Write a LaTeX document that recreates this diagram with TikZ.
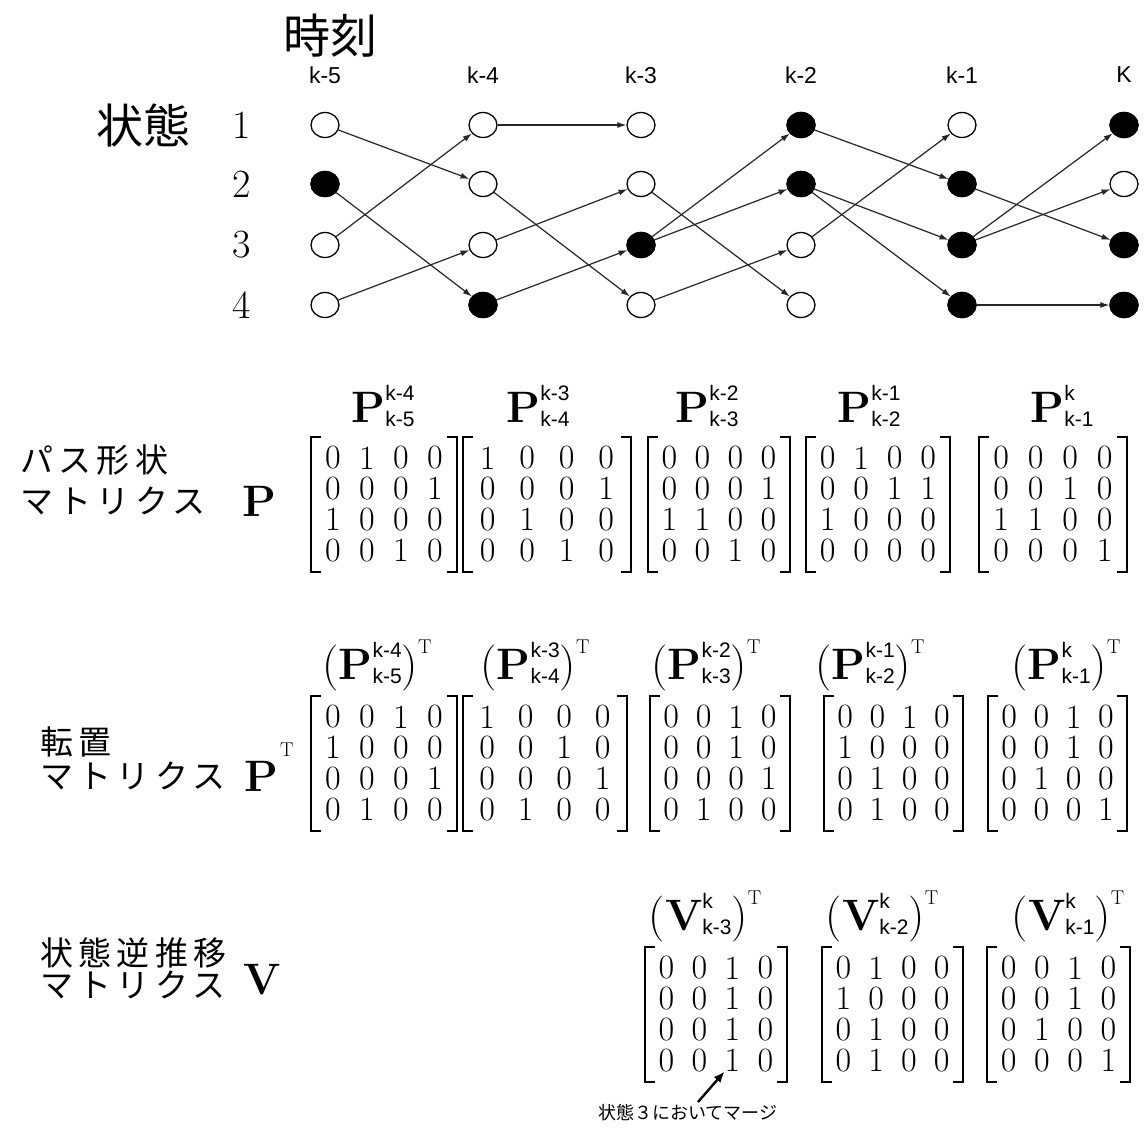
\documentclass[tikz,border=0pt]{standalone}
\usepackage{fontspec}
\usetikzlibrary{arrows.meta,shapes.geometric}
\newfontfamily\jp{Noto Sans CJK JP}
\newfontfamily\jpl[LetterSpace=16]{Noto Sans CJK JP}
\newfontfamily\ssf{Liberation Sans}
\newcommand\bfP{{\fontsize{44}{44}\selectfont\bfseries P}}
\newcommand\bfV{{\fontsize{44}{44}\selectfont\bfseries V}}
\newcommand\scrf{\fontsize{21}{21}\selectfont\ssf}
\newcommand\lpar{{\fontsize{46}{46}\selectfont(}}
\newcommand\rpar{{\fontsize{46}{46}\selectfont)}}
\newcommand\supT{\raisebox{26pt}{\fontsize{20}{20}\selectfont T}}
\newcommand\PH[3]{#1\rlap{\raisebox{22pt}{\scrf #2}}\raisebox{-4pt}{\scrf #3}}
\newcommand\mymat[8]{%
  \foreach \rw [count=\r] in {{#5},{#6},{#7},{#8}} {
    \foreach \v [count=\c] in \rw {
      \node[dig] (#1-\r-\c) at ({#2+5+(#3-#2-10)*(2*\c-1)/8},{#4+(\r-1)*30.7}) {\v};
    }
  }
  \draw[brk] ({#2+10},{#4-21}) -- (#2,{#4-21}) -- (#2,{#4+3*30.7+22}) -- ({#2+10},{#4+3*30.7+22});
  \draw[brk] ({#3-10},{#4-21}) -- (#3,{#4-21}) -- (#3,{#4+3*30.7+22}) -- ({#3-10},{#4+3*30.7+22});
}
\begin{document}
\begin{tikzpicture}[x=1pt,y=-1pt,
  st/.style={ellipse, draw, line width=1.3pt, minimum width=28pt, minimum height=25pt, inner sep=0pt, fill=white},
  stf/.style={st, fill=black},
  tr/.style={line width=1.2pt, draw=black!85, -{Latex[length=9pt,width=6pt]}},
  dig/.style={font=\fontsize{34}{34}\selectfont, inner sep=0pt},
  brk/.style={line width=2.4pt},
  head/.style={inner sep=0pt},
  jlab/.style={inner sep=0pt, anchor=west, font=\fontsize{33}{33}\selectfont\jpl},
  collab/.style={inner sep=0pt, font=\fontsize{23}{23}\selectfont\ssf},
  numlab/.style={inner sep=0pt, font=\fontsize{40}{40}\selectfont},
]
\useasboundingbox[fill=white] (0,0) rectangle (1148,1130);

% ---- trellis labels
\node[inner sep=0pt, font=\fontsize{47}{47}\selectfont\jp] (jikoku) at (330,36) {時刻};
\node[inner sep=0pt, font=\fontsize{47}{47}\selectfont\jp] (joutai) at (143,125) {状態};
\foreach \lab [count=\i from 0] in {k-5,k-4,k-3,k-2,k-1,K} {
  \pgfmathsetmacro\xx{{325,483,641,801,962,1124}[\i]}
  \node[collab] (col\i) at (\xx,75) {\lab};
}
\foreach \j/\yy in {1/125,2/184,3/245,4/305} {
  \node[numlab] (num\j) at (242,\yy) {\j};
}

% ---- states
\foreach \i/\xx in {0/325,1/483,2/641,3/801,4/962,5/1124} {
  \foreach \j/\yy in {1/125,2/184,3/245,4/305} {
    \node[st] (n\i-\j) at (\xx,\yy) {};
  }
}
\foreach \i/\j in {0/2,1/4,2/3,3/1,3/2,4/2,4/3,4/4,5/1,5/3,5/4} {
  \node[stf] (f\i-\j) at (n\i-\j) {};
}
% ---- transitions
\foreach \i/\a/\b in {0/1/2,0/2/4,0/3/1,0/4/3,
                      1/1/1,1/2/4,1/3/2,1/4/3,
                      2/2/4,2/3/1,2/3/2,2/4/3,
                      3/1/2,3/2/3,3/2/4,3/3/1,
                      4/2/3,4/3/1,4/3/2,4/4/4} {
  \pgfmathtruncatemacro\nx{\i+1}
  \draw[tr] (n\i-\a) -- (n\nx-\b);
}

% ---- P matrices
\node[jlab] (pasu) at (20,460) {パス形状};
\node[jlab] (mat1) at (20,501) {マトリクス};
\node[head, anchor=west] (P1) at (242,501) {\bfP};
\node[head] (hp1) at (383,406) {\PH{\bfP}{k-4}{k-5}};
\node[head] (hp2) at (538,406) {\PH{\bfP}{k-3}{k-4}};
\node[head] (hp3) at (707,406) {\PH{\bfP}{k-2}{k-3}};
\node[head] (hp4) at (869,406) {\PH{\bfP}{k-1}{k-2}};
\node[head] (hp5) at (1062,406) {\PH{\bfP}{k}{k-1}};
\mymat{pa}{311}{457}{458}{0,1,0,0}{0,0,0,1}{1,0,0,0}{0,0,1,0}
\mymat{pb}{463}{631}{458}{1,0,0,0}{0,0,0,1}{0,1,0,0}{0,0,1,0}
\mymat{pc}{648}{790}{458}{0,0,0,0}{0,0,0,1}{1,1,0,0}{0,0,1,0}
\mymat{pd}{806}{950}{458}{0,1,0,0}{0,0,1,1}{1,0,0,0}{0,0,0,0}
\mymat{pe}{979}{1127}{458}{0,0,0,0}{0,0,1,0}{1,1,0,0}{0,0,0,1}

% ---- transposed
\node[jlab] (tenchi) at (40,742) {転置};
\node[jlab] (mat2) at (40,776) {マトリクス};
\node[head, anchor=west] (P2) at (244,776) {\bfP};
\node[head, anchor=west, font=\fontsize{20}{20}\selectfont] (T2) at (280,750) {T};
\node[head] (ht1) at (377,665) {\lpar\PH{\bfP}{k-4}{k-5}\rpar\supT};
\node[head] (ht2) at (535,665) {\lpar\PH{\bfP}{k-3}{k-4}\rpar\supT};
\node[head] (ht3) at (706,665) {\lpar\PH{\bfP}{k-2}{k-3}\rpar\supT};
\node[head] (ht4) at (870,665) {\lpar\PH{\bfP}{k-1}{k-2}\rpar\supT};
\node[head] (ht5) at (1066,665) {\lpar\PH{\bfP}{k}{k-1}\rpar\supT};
\mymat{ta}{311}{457}{717}{0,0,1,0}{1,0,0,0}{0,0,0,1}{0,1,0,0}
\mymat{tb}{463}{627}{717}{1,0,0,0}{0,0,1,0}{0,0,0,1}{0,1,0,0}
\mymat{tc}{650}{790}{717}{0,0,1,0}{0,0,1,0}{0,0,0,1}{0,1,0,0}
\mymat{td}{824}{963}{717}{0,0,1,0}{1,0,0,0}{0,1,0,0}{0,1,0,0}
\mymat{te}{988}{1127}{717}{0,0,1,0}{0,0,1,0}{0,1,0,0}{0,0,0,1}

% ---- V matrices
\node[jlab] (gyaku) at (40,953) {状態逆推移};
\node[jlab] (mat3) at (40,985) {マトリクス};
\node[head, anchor=west] (V3) at (243,980) {\bfV};
\node[head] (hv1) at (705,916) {\lpar\PH{\bfV}{k}{k-3}\rpar\supT};
\node[head] (hv2) at (882,916) {\lpar\PH{\bfV}{k}{k-2}\rpar\supT};
\node[head] (hv3) at (1068,916) {\lpar\PH{\bfV}{k}{k-1}\rpar\supT};
\mymat{va}{645}{787}{968}{0,0,1,0}{0,0,1,0}{0,0,1,0}{0,0,1,0}
\mymat{vb}{822}{963}{968}{0,1,0,0}{1,0,0,0}{0,1,0,0}{0,1,0,0}
\mymat{vc}{987}{1130}{968}{0,0,1,0}{0,0,1,0}{0,1,0,0}{0,0,0,1}

% ---- merge note
\node[inner sep=0pt, anchor=west, font=\fontsize{18}{18}\selectfont\jp] (note) at (598,1113) {状態３においてマージ};
\coordinate (ntail) at (698,1102);
\draw[line width=2.4pt, -{Latex[length=11pt,width=9pt]}] (ntail) -- (va-4-3.south west);
\end{tikzpicture}
\end{document}
